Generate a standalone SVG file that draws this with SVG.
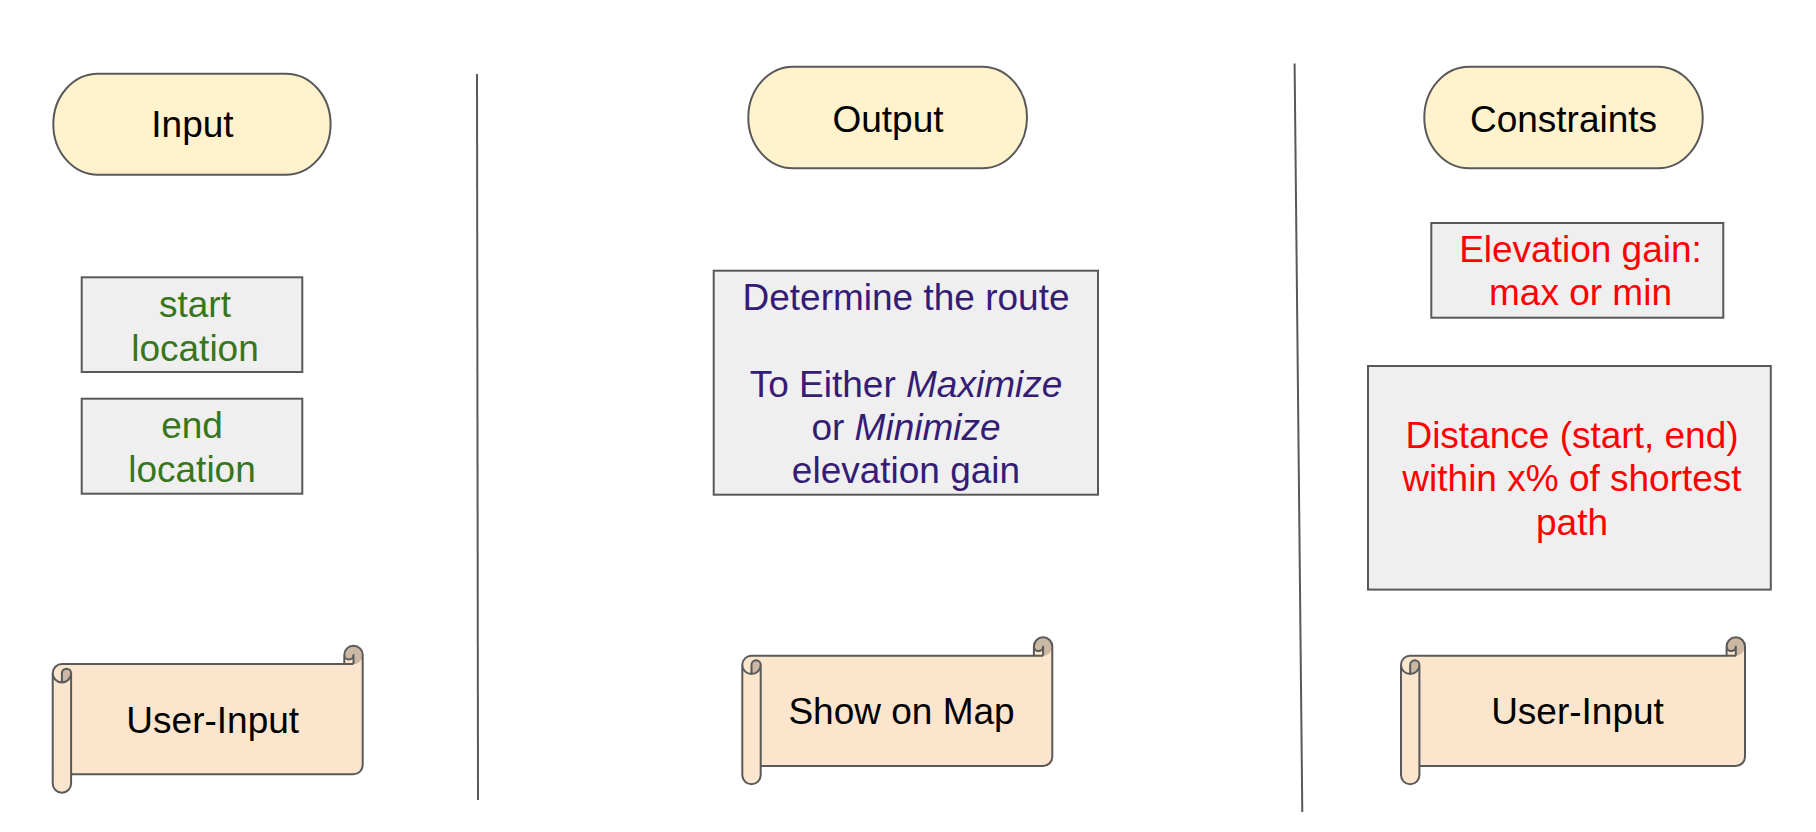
<svg xmlns="http://www.w3.org/2000/svg" width="1816" height="832" viewBox="0 0 1816 832">
<style>
text{font-family:"Liberation Sans",Arial,sans-serif;font-size:37px;text-anchor:middle}
.pill{fill:#fff2cc;stroke:#595959;stroke-width:2}
.box{fill:#efefef;stroke:#595959;stroke-width:2}
.sfill{fill:#fce5cd;stroke:none}
.sdark{fill:#cbb8a4;stroke:none}
.sline{fill:none;stroke:#595959;stroke-width:2;stroke-linejoin:round}
.div{stroke:#595959;stroke-width:2;fill:none}
.blk{fill:#000000}
.grn{fill:#38761d}
.pur{fill:#351c75}
.red{fill:#ff0000}
</style>
<defs>
<g id="scroll310">
<path class="sfill" d="M0,27.6 A9.2,9.2 0 0 1 9.2,18.4 L291.6,18.4 L291.6,9.2 A9.2,9.2 0 0 1 310,9.2 L310,119.4 A9.2,9.2 0 0 1 300.8,128.6 L18.4,128.6 L18.4,137.8 A9.2,9.2 0 0 1 0,137.8 Z"/>
<path class="sdark" d="M9.2,36.8 A9.2,9.2 0 0 0 18.4,27.6 A4.6,4.6 0 0 0 9.2,27.6 Z M300.8,18.4 A9.2,9.2 0 1 0 291.6,9.2 A4.6,4.6 0 0 0 300.8,9.2 Z"/>
<path class="sline" d="M0,27.6 A9.2,9.2 0 0 1 9.2,18.4 L291.6,18.4 L291.6,9.2 A9.2,9.2 0 0 1 310,9.2 L310,119.4 A9.2,9.2 0 0 1 300.8,128.6 L18.4,128.6 L18.4,137.8 A9.2,9.2 0 0 1 0,137.8 Z M291.6,18.4 L300.8,18.4 M300.8,18.4 L300.8,9.2 A4.6,4.6 0 0 1 291.6,9.2 M9.2,36.8 L9.2,27.6 A4.6,4.6 0 0 1 18.4,27.6 A9.2,9.2 0 0 1 0,27.6 M18.4,27.6 L18.4,128.6"/>
</g>
<g id="scroll344">
<path class="sfill" d="M0,27.6 A9.2,9.2 0 0 1 9.2,18.4 L325.6,18.4 L325.6,9.2 A9.2,9.2 0 0 1 344,9.2 L344,119.4 A9.2,9.2 0 0 1 334.8,128.6 L18.4,128.6 L18.4,137.8 A9.2,9.2 0 0 1 0,137.8 Z"/>
<path class="sdark" d="M9.2,36.8 A9.2,9.2 0 0 0 18.4,27.6 A4.6,4.6 0 0 0 9.2,27.6 Z M334.8,18.4 A9.2,9.2 0 1 0 325.6,9.2 A4.6,4.6 0 0 0 334.8,9.2 Z"/>
<path class="sline" d="M0,27.6 A9.2,9.2 0 0 1 9.2,18.4 L325.6,18.4 L325.6,9.2 A9.2,9.2 0 0 1 344,9.2 L344,119.4 A9.2,9.2 0 0 1 334.8,128.6 L18.4,128.6 L18.4,137.8 A9.2,9.2 0 0 1 0,137.8 Z M325.6,18.4 L334.8,18.4 M334.8,18.4 L334.8,9.2 A4.6,4.6 0 0 1 325.6,9.2 M9.2,36.8 L9.2,27.6 A4.6,4.6 0 0 1 18.4,27.6 A9.2,9.2 0 0 1 0,27.6 M18.4,27.6 L18.4,128.6"/>
</g>
</defs>
<rect width="1816" height="832" fill="#ffffff"/>
<g id="connectors">
<line class="div" x1="477" y1="74" x2="478" y2="800"/>
<line class="div" x1="1294.6" y1="63.5" x2="1302.3" y2="812"/>
</g>
<g id="input-title">
<rect class="pill" x="53.3" y="73.7" width="277.3" height="101" rx="44.6" ry="50.5"/>
<text class="blk" x="192.5" y="137">Input</text>
</g>
<g id="output-title">
<rect class="pill" x="748.3" y="66.7" width="278.7" height="101.6" rx="44.8" ry="50.8"/>
<text class="blk" x="888" y="132">Output</text>
</g>
<g id="constraints-title">
<rect class="pill" x="1424.3" y="66.7" width="278.4" height="101.6" rx="44.8" ry="50.8"/>
<text class="blk" x="1563.5" y="132">Constraints</text>
</g>
<g id="start-location">
<rect class="box" x="81.7" y="277.3" width="220.6" height="94.7"/>
<text class="grn" x="195" y="317">start</text>
<text class="grn" x="195" y="361">location</text>
</g>
<g id="end-location">
<rect class="box" x="81.7" y="398.7" width="220.6" height="95"/>
<text class="grn" x="192" y="437.5">end</text>
<text class="grn" x="192" y="482">location</text>
</g>
<g id="route">
<rect class="box" x="713.7" y="270.7" width="384.3" height="224"/>
<text class="pur" x="906" y="309.5">Determine the route</text>
<text class="pur" x="906" y="396.5">To Either <tspan font-style="italic">Maximize</tspan></text>
<text class="pur" x="906" y="439.5">or <tspan font-style="italic">Minimize</tspan></text>
<text class="pur" x="906" y="482.5">elevation gain</text>
</g>
<g id="elevation-gain">
<rect class="box" x="1431.3" y="223" width="292" height="94.7"/>
<text class="red" x="1580.5" y="262">Elevation gain:</text>
<text class="red" x="1580.5" y="305">max or min</text>
</g>
<g id="distance">
<rect class="box" x="1368" y="366" width="402.8" height="223.6"/>
<text class="red" x="1572" y="448">Distance (start, end)</text>
<text class="red" x="1572" y="491.3">within x% of shortest</text>
<text class="red" x="1572" y="534.6">path</text>
</g>
<g id="user-input-left">
<use href="#scroll310" transform="translate(52.7,645.7)"/>
<text class="blk" x="212.7" y="732.7">User-Input</text>
</g>
<g id="show-on-map">
<use href="#scroll310" transform="translate(742.3,637.3)"/>
<text class="blk" x="901.5" y="724">Show on Map</text>
</g>
<g id="user-input-right">
<use href="#scroll344" transform="translate(1401,637.3)"/>
<text class="blk" x="1577.5" y="724">User-Input</text>
</g>
</svg>
